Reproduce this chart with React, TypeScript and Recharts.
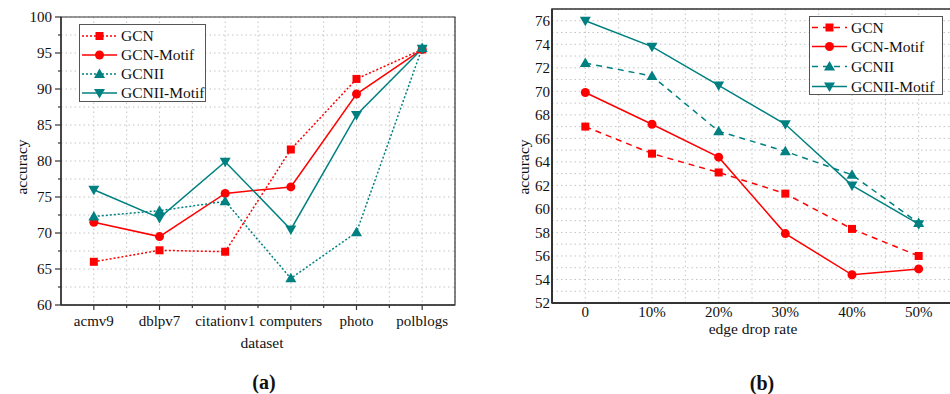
import React from 'react';
import { LineChart, Line, XAxis, YAxis, CartesianGrid, ReferenceArea } from 'recharts';

// ---- data ----
const datasets = ['acmv9', 'dblpv7', 'citationv1', 'computers', 'photo', 'polblogs'];
const gcnA = [66.0, 67.6, 67.4, 81.6, 91.4, 95.5];
const gcnMotifA = [71.5, 69.5, 75.5, 76.4, 89.3, 95.5];
const gcniiA = [72.3, 73.1, 74.4, 63.7, 70.1, 95.7];
const gcniiMotifA = [76.0, 72.1, 79.9, 70.5, 86.4, 95.6];

const dropRates = ['0', '10%', '20%', '30%', '40%', '50%'];
const gcnB = [67.0, 64.7, 63.1, 61.3, 58.3, 56.0];
const gcnMotifB = [69.9, 67.2, 64.4, 57.9, 54.4, 54.9];
const gcniiB = [72.4, 71.3, 66.6, 64.9, 62.9, 58.8];
const gcniiMotifB = [76.0, 73.8, 70.5, 67.2, 62.0, 58.7];

const yTicksA = [60, 62.5, 65, 67.5, 70, 72.5, 75, 77.5, 80, 82.5, 85, 87.5, 90, 92.5, 95, 97.5, 100];
const yTicksB = [52, 53, 54, 55, 56, 57, 58, 59, 60, 61, 62, 63, 64, 65, 66, 67, 68, 69, 70, 71, 72, 73, 74, 75, 76];
const xTicks = [0, 0.5, 1, 1.5, 2, 2.5, 3, 3.5, 4, 4.5, 5];

const tableA = datasets.map((name, i) => ({
  x: i, name, gcn: gcnA[i], gcnMotif: gcnMotifA[i], gcnii: gcniiA[i], gcniiMotif: gcniiMotifA[i],
}));
const tableB = dropRates.map((name, i) => ({
  x: i, name, gcn: gcnB[i], gcnMotif: gcnMotifB[i], gcnii: gcniiB[i], gcniiMotif: gcniiMotifB[i],
}));

const RED = '#ff0000';
const TEAL = '#008080';
const FONT = '"Liberation Serif", "Times New Roman", serif';

type Shape = 'square' | 'circle' | 'up' | 'down';

const series: { key: string; name: string; color: string; dashed: boolean; shape: Shape }[] = [
  { key: 'gcn', name: 'GCN', color: RED, dashed: true, shape: 'square' },
  { key: 'gcnMotif', name: 'GCN-Motif', color: RED, dashed: false, shape: 'circle' },
  { key: 'gcnii', name: 'GCNII', color: TEAL, dashed: true, shape: 'up' },
  { key: 'gcniiMotif', name: 'GCNII-Motif', color: TEAL, dashed: false, shape: 'down' },
];

const Marker = ({ shape, cx, cy, color }: { shape: Shape; cx: number; cy: number; color: string }) => {
  if (shape === 'square') return <rect x={cx - 4} y={cy - 4} width={8} height={8} fill={color} />;
  if (shape === 'circle') return <circle cx={cx} cy={cy} r={4.5} fill={color} />;
  if (shape === 'up') return <polygon points={`${cx},${cy - 5.5} ${cx + 5.5},${cy + 4} ${cx - 5.5},${cy + 4}`} fill={color} />;
  return <polygon points={`${cx},${cy + 5.5} ${cx + 5.5},${cy - 4} ${cx - 5.5},${cy - 4}`} fill={color} />;
};

const dotFor = (shape: Shape, color: string) => (props: any) => {
  const { cx, cy, index } = props;
  if (cx == null || cy == null) return <g key={`${shape}-${index}`} />;
  return (
    <g key={`${shape}-${index}`}>
      <Marker shape={shape} cx={cx} cy={cy} color={color} />
    </g>
  );
};

// left chart ticks: long major marks with labels, short minor marks
const XTickA = (props: any) => {
  const { x, y, payload } = props;
  const v = payload.value;
  const major = Number.isInteger(v);
  const axisY = y - 10;
  return (
    <g>
      <line x1={x} x2={x} y1={axisY} y2={axisY + (major ? 5 : 3)} stroke="#333" strokeWidth={1.2} />
      {major && (
        <text x={x} y={y} dy="0.71em" textAnchor="middle" fontFamily={FONT} fontSize={15} fill="#111">{datasets[v]}</text>
      )}
    </g>
  );
};

const YTickA = (props: any) => {
  const { x, y, payload } = props;
  const v = payload.value;
  const major = v % 5 === 0;
  const axisX = x + 9;
  return (
    <g>
      <line x1={axisX - (major ? 6 : 3)} x2={axisX} y1={y} y2={y} stroke="#333" strokeWidth={1.2} />
      {major && (
        <text x={x} y={y} dy="0.35em" textAnchor="end" fontFamily={FONT} fontSize={15} fill="#111">{v}</text>
      )}
    </g>
  );
};

const LegendBox = ({ left, top, width, height, rows, dash }: any) => (
  <div style={{ position: 'absolute', left, top, width, height, border: '1px solid #555', background: '#fff', boxSizing: 'border-box' }}>
    <svg width={width - 2} height={height - 2} style={{ display: 'block' }}>
      {series.map((s, i) => (
        <g key={s.key}>
          <line x1={2} x2={37} y1={rows[i]} y2={rows[i]} stroke={s.color} strokeWidth={1.5} strokeDasharray={s.dashed ? dash : undefined} />
          <Marker shape={s.shape} cx={19.5} cy={rows[i]} color={s.color} />
          <text x={41} y={rows[i]} dy="0.35em" fontFamily={FONT} fontSize={15.5} fill="#111">{s.name}</text>
        </g>
      ))}
    </svg>
  </div>
);

const Label = ({ x, y, text, size = 15.5, bold = false, rotate = false }: any) => (
  <div style={{
    position: 'absolute', left: x, top: y, transform: `translate(-50%, -50%)${rotate ? ' rotate(-90deg)' : ''}`,
    fontFamily: FONT, fontSize: size, fontWeight: bold ? 'bold' : 'normal', lineHeight: 1, whiteSpace: 'nowrap', color: '#111',
  }}>{text}</div>
);

const tickStyle = { fontSize: 15, fill: '#111', fontFamily: FONT };

export default function App() {
  return (
    <div style={{ position: 'absolute', left: 0, top: 0, width: 950, height: 394, overflow: 'hidden', background: '#fff' }}>
      {/* (a) */}
      <div style={{ position: 'absolute', left: 0, top: 0 }}>
        <LineChart width={480} height={394} data={tableA} margin={{ top: 17, right: 25, left: 21, bottom: 59 }}>
          <CartesianGrid stroke="#c4c4c4" strokeDasharray="1.5 3" />
          <XAxis
            dataKey="x" type="number" domain={[-0.5, 5.5]} ticks={xTicks} interval={0} height={30}
            tick={<XTickA />} tickSize={0} tickMargin={10} tickLine={false}
            axisLine={{ stroke: '#333', strokeWidth: 1.5 }}
          />
          <YAxis
            type="number" domain={[60, 100]} ticks={yTicksA} interval={0} width={40}
            tick={<YTickA />} tickSize={0} tickMargin={9} tickLine={false}
            axisLine={{ stroke: '#333', strokeWidth: 1.5 }}
          />
          <ReferenceArea x1={-0.5} x2={5.5} y1={60} y2={100} fill="none" stroke="#333" strokeWidth={1.2} fillOpacity={0} />
          {series.map((s) => (
            <Line key={s.key} dataKey={s.key} name={s.name} stroke={s.color} strokeWidth={1.5}
              strokeDasharray={s.dashed ? '2 2' : undefined} dot={dotFor(s.shape, s.color)} activeDot={false}
              isAnimationActive={false} />
          ))}
        </LineChart>
      </div>
      {/* (b) */}
      <div style={{ position: 'absolute', left: 480, top: 0 }}>
        <LineChart width={480} height={394} data={tableB} margin={{ top: 9, right: 8, left: 32, bottom: 61 }}>
          <CartesianGrid stroke="#c4c4c4" strokeDasharray="1.5 3" />
          <XAxis
            dataKey="x" type="number" domain={[-0.5, 5.5]} ticks={xTicks} interval={0} height={30}
            tickFormatter={(v: number) => (Number.isInteger(v) ? dropRates[v] : '')}
            tick={tickStyle} tickSize={0} tickMargin={3} tickLine={false}
            axisLine={{ stroke: '#333', strokeWidth: 2 }}
          />
          <YAxis
            type="number" domain={[52, 77]} ticks={yTicksB} interval={0} width={40}
            tickFormatter={(v: number) => (v % 2 === 0 ? String(v) : '')}
            tick={tickStyle} tickSize={0} tickMargin={2} tickLine={false}
            axisLine={{ stroke: '#333', strokeWidth: 2 }}
          />
          <ReferenceArea x1={-0.5} x2={5.5} y1={52} y2={77} fill="none" stroke="#333" strokeWidth={1.5} fillOpacity={0} />
          {series.map((s) => (
            <Line key={s.key} dataKey={s.key} name={s.name} stroke={s.color} strokeWidth={1.5}
              strokeDasharray={s.dashed ? '6 5' : undefined} dot={dotFor(s.shape, s.color)} activeDot={false}
              isAnimationActive={false} />
          ))}
        </LineChart>
      </div>

      <LegendBox left={79} top={24} width={127} height={78} rows={[11, 30, 49, 68]} dash="2 2" />
      <LegendBox left={809} top={16} width={134} height={79} rows={[10.5, 29.5, 49.5, 69.5]} dash="6 5" />

      <Label x={22} y={167} text="accuracy" rotate />
      <Label x={262} y={343} text="dataset" />
      <Label x={264} y={382} text="(a)" size={20} bold />
      <Label x={524} y={167} text="accuracy" rotate />
      <Label x={753} y={329} text="edge drop rate" />
      <Label x={762} y={383} text="(b)" size={20} bold />
    </div>
  );
}
